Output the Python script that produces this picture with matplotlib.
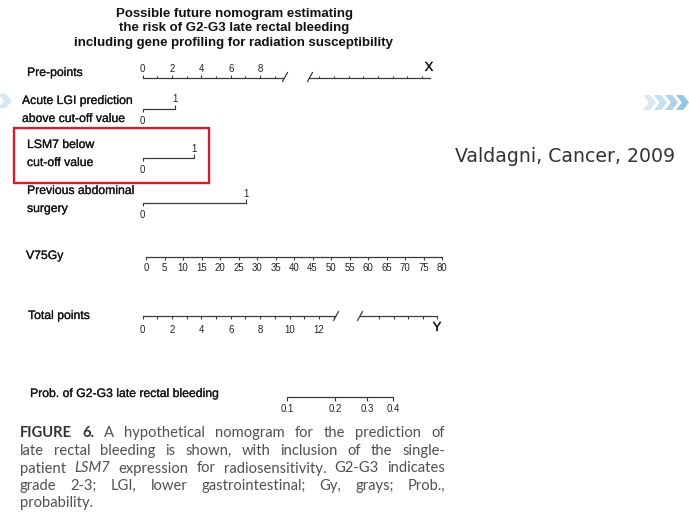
import matplotlib
matplotlib.use('Agg')
import matplotlib.pyplot as plt
from matplotlib.patches import Polygon, Rectangle
from matplotlib.ticker import NullLocator, FixedLocator, FixedFormatter
import matplotlib.patheffects as pe

# ---------------- data ----------------
title_lines = ["Possible future nomogram estimating",
               "the risk of G2-G3 late rectal bleeding",
               "including gene profiling for radiation susceptibility"]

prepoints_major = [0, 2, 4, 6, 8]
prepoints_minor = [1, 3, 5, 7, 9]
prepoints_seg1_max = 9.56
prepoints_seg2_ticks = [0.7, 1.7, 2.7, 3.7, 4.7, 5.7, 6.7, 7.7]
prepoints_seg2_max = 8.2

binary_names = [["Acute LGI prediction", "above cut-off value"],
                ["LSM7 below", "cut-off value"],
                ["Previous abdominal", "surgery"]]
binary_points = [2.2, 3.5, 7.05]      # pre-points of level "1"

v75_ticks = list(range(0, 85, 5))

total_major = [0, 2, 4, 6, 8, 10, 12]
total_minor = [1, 3, 5, 7, 9, 11, 13]
total_seg1_max = 13.1
total_seg2_ticks = [1.3, 2.3, 3.3, 4.3, 5.27]
total_seg2_max = 5.27

prob_ticks = [0.1, 0.2, 0.3, 0.4]
prob_labels = ["0.1", "0.2", "0.3", "0.4"]

caption_lines = [
    [("FIGURE", "b"), ("6.", "b"), ("A", ""), ("hypothetical", ""), ("nomogram", ""),
     ("for", ""), ("the", ""), ("prediction", ""), ("of", "")],
    [("late", ""), ("rectal", ""), ("bleeding", ""), ("is", ""), ("shown,", ""), ("with", ""),
     ("inclusion", ""), ("of", ""), ("the", ""), ("single-", "")],
    [("patient", ""), ("LSM7", "i"), ("expression", ""), ("for", ""), ("radiosensitivity.", ""),
     ("G2-G3", ""), ("indicates", "")],
    [("grade", ""), ("2-3;", ""), ("LGI,", ""), ("lower", ""), ("gastrointestinal;", ""),
     ("Gy,", ""), ("grays;", ""), ("Prob.,", "")],
    [("probability.", "")],
]
citation = "Valdagni, Cancer, 2009"

# ---------------- figure ----------------
W, H = 689, 517
fig = plt.figure(figsize=(W / 100, H / 100), dpi=100)
bg = fig.add_axes([0, 0, 1, 1])
bg.set_xlim(0, W)
bg.set_ylim(H, 0)
bg.axis('off')

LINE = '#3a3a3a'
TXT = '#161616'
FONT = 'Liberation Sans'
TICKFS = 6.9
PX = 72 / 100.0      # points per pixel
UNIT = 14.7          # pixels per pre-point
heavy = [pe.withStroke(linewidth=0.18, foreground=TXT)]

def scale_axes(x0, x1, y, lim):
    ax = fig.add_axes([x0 / W, 1 - y / H, (x1 - x0) / W, 0.00005])
    ax.set_xlim(*lim)
    ax.set_ylim(0, 1)
    ax.patch.set_visible(False)
    for s in ['left', 'right', 'top']:
        ax.spines[s].set_visible(False)
    ax.spines['bottom'].set_color(LINE)
    ax.spines['bottom'].set_linewidth(0.9)
    ax.yaxis.set_visible(False)
    ax.tick_params(axis='x', colors=LINE, labelcolor='#222222', labelsize=TICKFS, width=0.8)
    return ax

def fontify(ax):
    for lbl in ax.get_xticklabels():
        lbl.set_fontfamily(FONT)

def slash(x, y):
    bg.plot([x - 2.5, x + 2.5], [y + 4.5, y - 4.5], color=LINE, lw=0.9)

def label(x, y, s, **kw):
    bg.text(x, y, s, fontsize=8.8, family=FONT, color=TXT, va='center', ha='left',
            path_effects=heavy, **kw)

# title
for i, t in enumerate(title_lines):
    bg.text(234, 14 + i * 14.5, t, fontsize=9.5, family=FONT, weight='bold',
            color='#111111', ha='center', va='center')

# ---- pre-points ----
X0 = 142.5
y_pre = 78
ax = scale_axes(X0, X0 + prepoints_seg1_max * UNIT, y_pre, (0, prepoints_seg1_max))
ax.xaxis.tick_top()
ax.xaxis.set_major_locator(FixedLocator(prepoints_major))
ax.xaxis.set_minor_locator(FixedLocator(prepoints_minor))
ax.xaxis.set_major_formatter(FixedFormatter([str(v) for v in prepoints_major]))
ax.tick_params(axis='x', which='major', direction='out', length=3.5 * PX, pad=0.3)
ax.tick_params(axis='x', which='minor', direction='out', length=1.8 * PX, width=0.8, colors=LINE)
fontify(ax)
ax2 = scale_axes(309, 309 + prepoints_seg2_max * UNIT, y_pre, (0, prepoints_seg2_max))
ax2.xaxis.tick_top()
ax2.set_xticks(prepoints_seg2_ticks)
ax2.set_xticklabels([])
ax2.tick_params(axis='x', direction='out', length=1.8 * PX)
slash(285, y_pre - 1)
slash(310, y_pre - 1)
bg.text(429, 68, "X", fontsize=9.5, family=FONT, color=TXT, ha='center', va='center',
        path_effects=heavy)
label(27, 73, "Pre-points")

# ---- binary variables ----
bin_y = [108.7, 158.3, 203]
lab_y = [(101, 119), (145, 163), (191, 209)]
lab_x = [22, 27, 27]
for names, pts, y, (ly1, ly2), lx in zip(binary_names, binary_points, bin_y, lab_y, lab_x):
    ax = scale_axes(X0, X0 + pts * UNIT, y, (0, 1))
    ax.set_xticks([0])
    ax.set_xticklabels(["0"])
    ax.tick_params(axis='x', direction='out', length=3 * PX, pad=2.8)
    fontify(ax)
    tw = ax.twiny()
    tw.set_xlim(0, 1)
    tw.patch.set_visible(False)
    for s in tw.spines.values():
        s.set_visible(False)
    tw.set_xticks([1])
    tw.set_xticklabels(["1"])
    tw.tick_params(axis='x', direction='out', length=4 * PX, pad=0.3, colors=LINE,
                   labelcolor='#222222', labelsize=TICKFS, width=0.8)
    fontify(tw)
    label(lx, ly1, names[0])
    label(lx, ly2, names[1])

# ---- V75Gy ----
ax = scale_axes(146, 442, 257, (0, 80))
ax.set_xticks(v75_ticks)
ax.set_xticklabels([str(v) for v in v75_ticks])
ax.tick_params(axis='x', direction='out', length=3 * PX, pad=2.3)
fontify(ax)
label(26, 256, "V75Gy")

# ---- Total points ----
y_tot = 316
ax = scale_axes(X0, X0 + total_seg1_max * UNIT, y_tot, (0, total_seg1_max))
ax.xaxis.set_major_locator(FixedLocator(total_major))
ax.xaxis.set_minor_locator(FixedLocator(total_minor))
ax.xaxis.set_major_formatter(FixedFormatter([str(v) for v in total_major]))
ax.tick_params(axis='x', which='major', direction='out', length=3 * PX, pad=4.0)
ax.tick_params(axis='x', which='minor', direction='out', length=3 * PX, width=0.8, colors=LINE)
fontify(ax)
ax2 = scale_axes(360, 360 + total_seg2_max * 14.6, y_tot, (0, total_seg2_max))
ax2.set_xticks(total_seg2_ticks)
ax2.set_xticklabels([])
ax2.tick_params(axis='x', direction='out', length=3 * PX)
slash(336, y_tot)
slash(360, y_tot)
bg.text(437, 328, "Y", fontsize=9.5, family=FONT, color=TXT, ha='center', va='center',
        path_effects=heavy)
label(28, 316, "Total points")

# ---- Probability ----
ax = scale_axes(287, 393, 397, (0.1, 0.4))
ax.set_xscale('logit')
ax.set_xlim(0.1, 0.4)
ax.xaxis.set_major_locator(FixedLocator(prob_ticks))
ax.xaxis.set_major_formatter(FixedFormatter(prob_labels))
ax.xaxis.set_minor_locator(NullLocator())
ax.tick_params(axis='x', direction='out', length=4 * PX, pad=1.8, colors=LINE,
               labelcolor='#222222', labelsize=TICKFS, width=0.8)
fontify(ax)
label(30, 394, "Prob. of G2-G3 late rectal bleeding")

# ---- red highlight box ----
bg.add_patch(Rectangle((14, 128), 195, 55, fill=False, edgecolor='#d0202a', lw=1.7))

# ---- citation ----
bg.text(455, 157, citation, fontsize=13.6, family='DejaVu Sans', color='#333333',
        ha='left', va='center')

# ---- chevrons ----
def chevron(x, ytop, w, h, color):
    pts = [(x, ytop), (x + w * 0.55, ytop), (x + w, ytop + h / 2),
           (x + w * 0.55, ytop + h), (x, ytop + h), (x + w * 0.45, ytop + h / 2)]
    bg.add_patch(Polygon(pts, closed=True, facecolor=color, edgecolor='none'))

chev_colors = ['#d9e9f4', '#c4dff0', '#aed3ec', '#93c5e6']
for i, c in enumerate(chev_colors):
    chevron(643 + i * 11, 95, 13, 15, c)
chevron(-2, 94, 14, 14, '#d5e6f2')

# ---- caption (justified) ----
fig.canvas.draw()
renderer = fig.canvas.get_renderer()
CAPFS = 10.6
CAPCOL = '#505050'
cx0, cx1 = 20, 445
cap_y = [433, 451, 468.5, 486, 503.5]

def word_props(style):
    d = dict(fontsize=CAPFS, family='Lato', color=CAPCOL, va='center', ha='left')
    if style == 'b':
        d['weight'] = 'bold'
        d['color'] = '#333333'
    if style == 'i':
        d['style'] = 'italic'
    return d

tmp = bg.text(0, 0, "a", **word_props(""))
wa = tmp.get_window_extent(renderer).width
tmp.set_text("a a")
space_w = tmp.get_window_extent(renderer).width - 2 * wa
tmp.remove()

for li, (words, y) in enumerate(zip(caption_lines, cap_y)):
    objs = [bg.text(0, y, w, **word_props(s)) for w, s in words]
    widths = [o.get_window_extent(renderer).width for o in objs]
    if li < len(caption_lines) - 1 and len(objs) > 1:
        gap = (cx1 - cx0 - sum(widths)) / (len(objs) - 1)
    else:
        gap = space_w
    x = cx0
    for o, wdt in zip(objs, widths):
        o.set_x(x)
        x += wdt + gap

fig.savefig('out.png', dpi=100)
